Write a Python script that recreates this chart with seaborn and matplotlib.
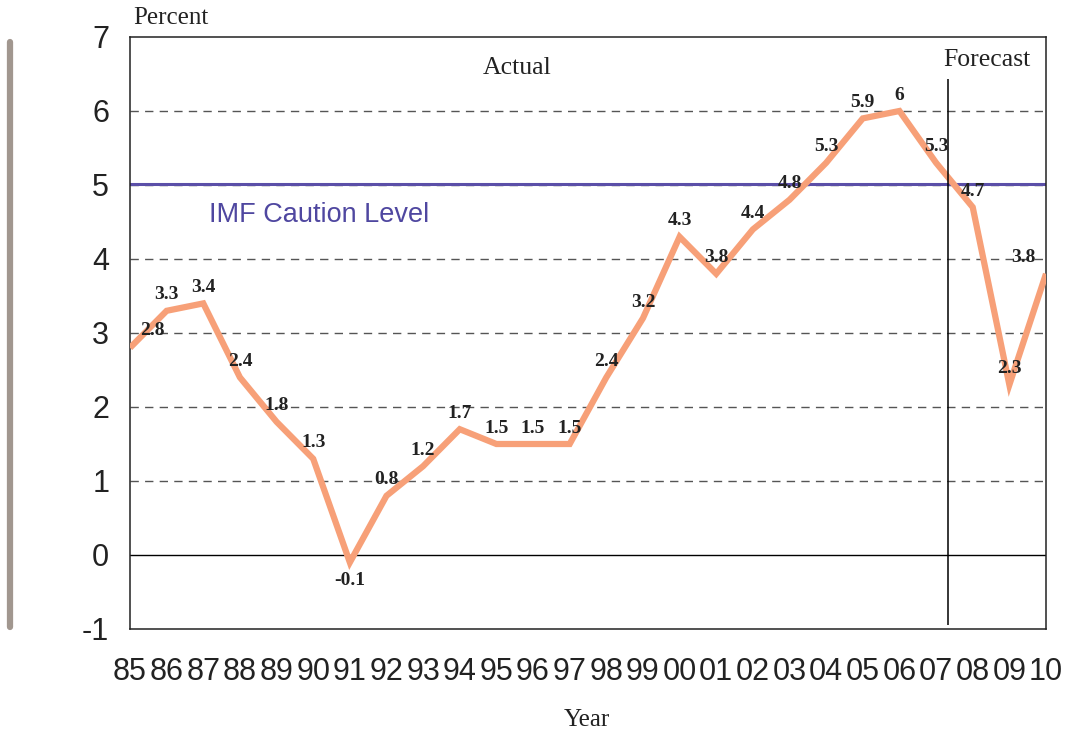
import matplotlib
matplotlib.use("Agg")
import matplotlib.pyplot as plt
import seaborn as sns
import pandas as pd
from matplotlib.lines import Line2D

years = ["85", "86", "87", "88", "89", "90", "91", "92", "93", "94", "95", "96", "97",
         "98", "99", "00", "01", "02", "03", "04", "05", "06", "07", "08", "09", "10"]
values = [2.8, 3.3, 3.4, 2.4, 1.8, 1.3, -0.1, 0.8, 1.2, 1.7, 1.5, 1.5, 1.5,
          2.4, 3.2, 4.3, 3.8, 4.4, 4.8, 5.3, 5.9, 6.0, 5.3, 4.7, 2.3, 3.8]
imf_level = 5.02
forecast_start = 22.33  # position between 07 and 08
y_ticks = [-1, 0, 1, 2, 3, 4, 5, 6, 7]

sns.set_style("white")
plt.rcParams['font.family'] = ['Liberation Sans', 'DejaVu Sans']

df = pd.DataFrame({"idx": range(len(years)), "value": values})

fig = plt.figure(figsize=(10.65, 7.35), dpi=100)
ax = fig.add_axes([130/1065, 1-629/735, (1046-130)/1065, (629-37)/735])

# gridlines
for yv in y_ticks[1:-1]:
    if yv == 0:
        ax.axhline(yv, color="black", lw=1.0, zorder=1)
    else:
        ax.axhline(yv, color="#555555", lw=1.0, ls=(0, (6, 4.5)), zorder=1)

ax.axhline(imf_level, color="#5B4FA8", lw=2.2, zorder=2)

sns.lineplot(data=df, x="idx", y="value", ax=ax, color="#F7A078", lw=4.5,
             zorder=3, solid_joinstyle="miter", solid_capstyle="butt")

ax.vlines(forecast_start, -0.95, 6.43, color="black", lw=1.1, zorder=4)

serif = ['Liberation Serif', 'DejaVu Serif']
n = len(values)
for i, v in enumerate(values):
    dx, dy = 0, 11.5
    if i == 0:
        dx, dy = 16, 12.5
    elif i == n - 1:
        dx = -16
    if v < 0:
        dy = -13
    ax.annotate(f"{v:g}", (i, v), xytext=(dx, dy), textcoords="offset points",
                ha="center", va="center", fontsize=14, fontweight="bold",
                family=serif, color="#222222", zorder=5)

ax.text(10.56, 6.58, "Actual", ha="center", va="center", fontsize=18.5, family=serif, color="#222222")
ax.text(23.4, 6.69, "Forecast", ha="center", va="center", fontsize=18.5, family=serif, color="#222222")
ax.text(2.15, 4.6, "IMF Caution Level", ha="left", va="center", fontsize=19.5, color="#4F47A0")

ax.set_xlim(0, n - 1)
ax.set_ylim(-1, 7)
ax.set_xticks(range(n))
ax.set_xticklabels(years)
ax.set_yticks(y_ticks)
ax.set_yticklabels([str(t) for t in y_ticks])
ax.tick_params(axis="x", direction="out", length=10, width=1, color="#333333",
               labelsize=22, pad=10, labelcolor="#222222")
ax.tick_params(axis="y", length=0, labelsize=22, pad=15, labelcolor="#222222")
ax.set_xlabel("")
ax.set_ylabel("")
for s in ax.spines.values():
    s.set_visible(True)
    s.set_color("#222222")
    s.set_linewidth(1.1)

fig.text(133/1065, 1-18/735, "Percent", ha="left", va="center", fontsize=18, family=serif, color="#222222")
fig.text(587/1065, 1-720/735, "Year", ha="center", va="center", fontsize=18, family=serif, color="#222222")

fig.add_artist(Line2D([10/1065, 10/1065], [1-42/735, 1-627/735], color="#A1978F",
                      lw=4.5, solid_capstyle="round"))

fig.savefig("out.png", dpi=100)
